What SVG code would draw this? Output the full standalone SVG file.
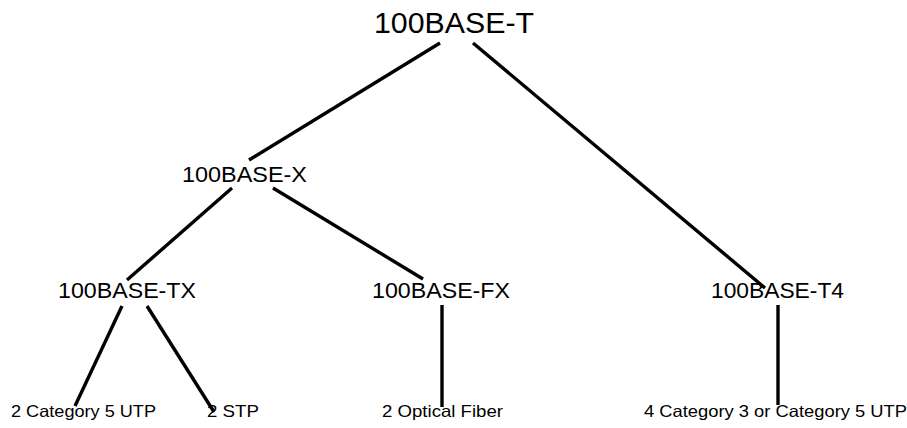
<svg xmlns="http://www.w3.org/2000/svg" width="907" height="428" viewBox="0 0 907 428">
  <style>
    .edge { stroke: #000; stroke-width: 3.4; stroke-linecap: butt; fill: none; }
    text { font-family: "Liberation Sans", Arial, sans-serif; fill: #000; }
    .l0 { font-size: 29px; }
    .l1 { font-size: 22px; }
    .l2 { font-size: 16.5px; }
  </style>
  <rect width="907" height="428" fill="#fff"/>

  <g id="connectors">
    <line class="edge" x1="440" y1="43" x2="249" y2="160"/>
    <line class="edge" x1="473" y1="43" x2="765" y2="288"/>
    <line class="edge" x1="232" y1="188" x2="127" y2="280"/>
    <line class="edge" x1="273" y1="188" x2="423" y2="279"/>
    <line class="edge" x1="122" y1="306" x2="75" y2="406"/>
    <line class="edge" x1="147" y1="306" x2="214" y2="412"/>
    <line class="edge" x1="442" y1="305" x2="442" y2="407"/>
    <line class="edge" x1="778" y1="305" x2="778" y2="405"/>
  </g>

  <g id="node-100base-t">
    <text class="l0" x="374" y="33" textLength="160" lengthAdjust="spacingAndGlyphs">100BASE-T</text>
  </g>
  <g id="node-100base-x">
    <text class="l1" x="182" y="182" textLength="125" lengthAdjust="spacingAndGlyphs">100BASE-X</text>
  </g>
  <g id="node-100base-tx">
    <text class="l1" x="58" y="298" textLength="138" lengthAdjust="spacingAndGlyphs">100BASE-TX</text>
  </g>
  <g id="node-100base-fx">
    <text class="l1" x="372" y="298" textLength="138" lengthAdjust="spacingAndGlyphs">100BASE-FX</text>
  </g>
  <g id="node-100base-t4">
    <text class="l1" x="711" y="298" textLength="133" lengthAdjust="spacingAndGlyphs">100BASE-T4</text>
  </g>
  <g id="node-cat5-utp">
    <text class="l2" x="11" y="417" textLength="145" lengthAdjust="spacingAndGlyphs">2 Category 5 UTP</text>
  </g>
  <g id="node-stp">
    <text class="l2" x="207" y="417" textLength="52" lengthAdjust="spacingAndGlyphs">2 STP</text>
  </g>
  <g id="node-fiber">
    <text class="l2" x="382" y="417" textLength="121" lengthAdjust="spacingAndGlyphs">2 Optical Fiber</text>
  </g>
  <g id="node-cat3-cat5-utp">
    <text class="l2" x="644" y="417" textLength="263" lengthAdjust="spacingAndGlyphs">4 Category 3 or Category 5 UTP</text>
  </g>
</svg>
